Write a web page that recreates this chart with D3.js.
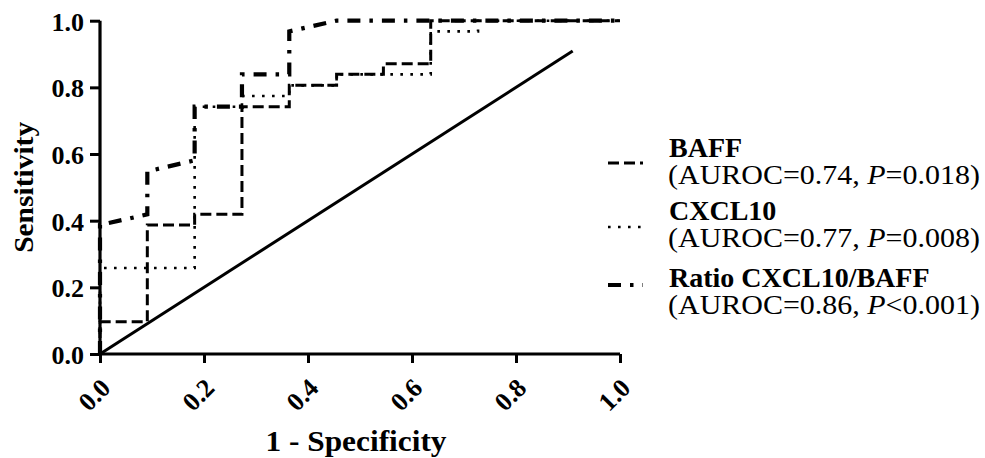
<!DOCTYPE html>
<html>
<head>
<meta charset="utf-8">
<script src="https://cdn.jsdelivr.net/npm/d3@7"></script>
<style>
  body { margin: 0; background: #fff; }
  text { font-family: "Liberation Serif", "Times New Roman", serif; fill: #000; }
</style>
</head>
<body>
<script>
const width = 985,
    height = 458;

// ROC curves (x = 1 - specificity, y = sensitivity)
const baffFpr  = [0, 0, 0.091, 0.091, 0.182, 0.182, 0.273, 0.273, 0.364, 0.364, 0.455, 0.455, 0.545, 0.545, 0.636, 0.636, 1.0];
const baffSens = [0, 0.097, 0.097, 0.387, 0.387, 0.419, 0.419, 0.742, 0.742, 0.806, 0.806, 0.839, 0.839, 0.871, 0.871, 1.0, 1.0];

const cxclFpr  = [0, 0, 0.182, 0.182, 0.273, 0.273, 0.364, 0.364, 0.455, 0.455, 0.636, 0.636, 0.727, 0.727, 1.0];
const cxclSens = [0, 0.258, 0.258, 0.742, 0.742, 0.774, 0.774, 0.806, 0.806, 0.839, 0.839, 0.968, 0.968, 1.0, 1.0];

const ratioFpr  = [0, 0, 0.091, 0.091, 0.182, 0.182, 0.273, 0.273, 0.364, 0.364, 0.455, 1.0];
const ratioSens = [0, 0.387, 0.419, 0.548, 0.581, 0.742, 0.742, 0.839, 0.839, 0.968, 1.0, 1.0];

// reference line
const refFpr  = [0, 0.909];
const refSens = [0, 0.909];

const ticks = [0, 0.2, 0.4, 0.6, 0.8, 1.0];

const names = ['BAFF', 'CXCL10', 'Ratio CXCL10/BAFF'];
const aurocs = ['0.74', '0.77', '0.86'];
const pvals = ['=0.018', '=0.008', '<0.001'];

const x = d3.scaleLinear().domain([0, 1]).range([100, 620]);
const y = d3.scaleLinear().domain([0, 1]).range([354, 20.7]);

const zip = (a, b) => a.map((v, i) => [v, b[i]]);

// line styles per series
const styles = [
    { data: zip(baffFpr, baffSens),   width: 3,   dash: '11,5' },
    { data: zip(cxclFpr, cxclSens),   width: 2.6, dash: '2.6,7.4' },
    { data: zip(ratioFpr, ratioSens), width: 4.2, dash: '13,9,3.5,9' }
];

const svg = d3.select('body')
    .append('svg')
    .attr('width', width)
    .attr('height', height);

const line = d3.line().x(d => x(d[0])).y(d => y(d[1]));

// diagonal
svg.append('path')
    .attr('d', line(zip(refFpr, refSens)))
    .attr('fill', 'none')
    .attr('stroke', '#000')
    .attr('stroke-width', 3);

styles.forEach(s => {
    svg.append('path')
        .attr('d', line(s.data))
        .attr('fill', 'none')
        .attr('stroke', '#000')
        .attr('stroke-width', s.width)
        .attr('stroke-dasharray', s.dash);
});

// axes
const fmt = d3.format('.1f');

const yAxis = svg.append('g')
    .attr('transform', `translate(${x(0)},0)`)
    .call(d3.axisLeft(y).tickValues(ticks).tickFormat(fmt).tickSize(10).tickPadding(6));

const xAxis = svg.append('g')
    .attr('transform', `translate(0,${y(0)})`)
    .call(d3.axisBottom(x).tickValues(ticks).tickFormat(fmt).tickSize(9));

[yAxis, xAxis].forEach(g => {
    g.select('.domain').attr('stroke-width', 3.2).attr('d', null);
    g.selectAll('.tick line').attr('stroke-width', 3);
    g.selectAll('text')
        .style('font-family', '"Liberation Serif", "Times New Roman", serif')
        .style('font-weight', 'bold')
        .style('font-size', '26px')
        .attr('fill', '#000');
});

// draw domain lines without end caps
yAxis.select('.domain').attr('d', `M0,${y(1)}V${y(0)}`);
xAxis.select('.domain').attr('d', `M${x(0)},0H${x(1)}`);

yAxis.selectAll('text').attr('dy', '0.36em');

xAxis.selectAll('.tick text')
    .attr('y', 0)
    .attr('dy', null)
    .attr('text-anchor', 'middle')
    .attr('dominant-baseline', 'central')
    .attr('transform', 'translate(-6,41) rotate(-45)');

// axis titles
svg.append('text')
    .attr('x', x(0.5) - 4)
    .attr('y', 451)
    .attr('text-anchor', 'middle')
    .style('font-weight', 'bold')
    .style('font-size', '29px')
    .attr('textLength', 181)
    .attr('lengthAdjust', 'spacingAndGlyphs')
    .text('1 - Specificity');

svg.append('text')
    .attr('transform', `translate(33,${(y(0) + y(1)) / 2}) rotate(-90)`)
    .attr('text-anchor', 'middle')
    .style('font-weight', 'bold')
    .style('font-size', '28px')
    .attr('textLength', 131)
    .attr('lengthAdjust', 'spacingAndGlyphs')
    .text('Sensitivity');

// legend
const legY = [157, 220, 287];
const sampleY = [163, 227, 285];

names.forEach((n, i) => {
    svg.append('path')
        .attr('d', d3.line()([[608, sampleY[i]], [643, sampleY[i]]]))
        .attr('stroke', '#000')
        .attr('stroke-width', styles[i].width)
        .attr('stroke-dasharray', styles[i].dash);

    svg.append('text')
        .attr('x', 669)
        .attr('y', legY[i])
        .style('font-weight', 'bold')
        .style('font-size', '28px')
        .text(n);

    const t = svg.append('text')
        .attr('x', 668)
        .attr('y', legY[i] + 26.5)
        .style('font-size', '28px')
        .attr('textLength', 312)
        .attr('lengthAdjust', 'spacingAndGlyphs');
    t.append('tspan').text(`(AUROC=${aurocs[i]}, `);
    t.append('tspan').style('font-style', 'italic').text('P');
    t.append('tspan').text(`${pvals[i]})`);
});
</script>
</body>
</html>
